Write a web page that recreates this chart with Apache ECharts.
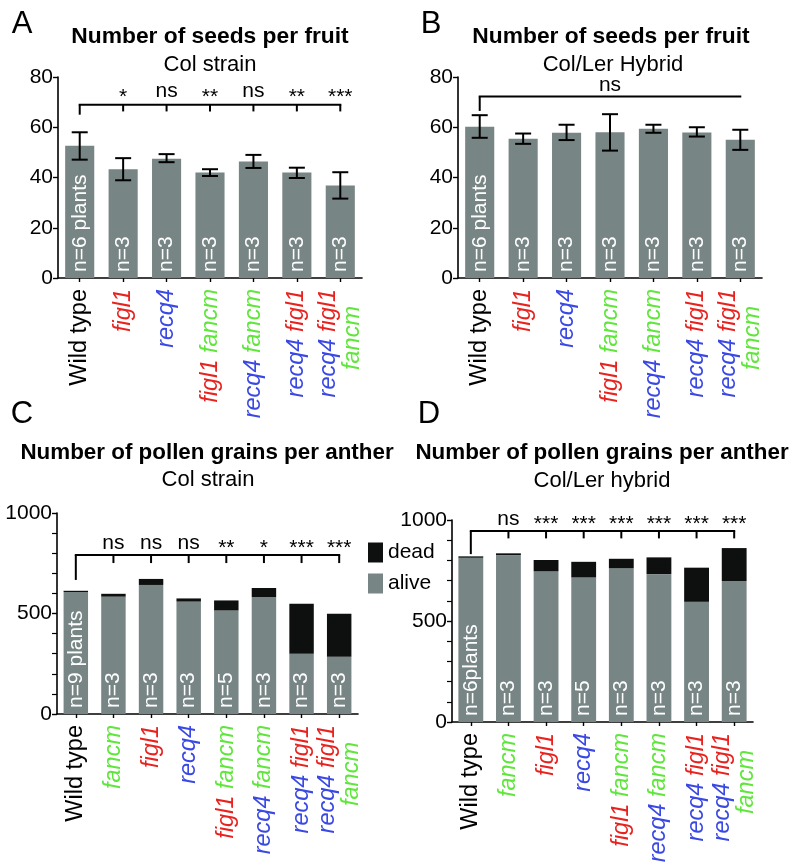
<!DOCTYPE html>
<html>
<head>
<meta charset="utf-8">
<script src="https://cdn.jsdelivr.net/npm/echarts@6/dist/echarts.min.js"></script>
<style>
html,body{margin:0;padding:0;background:#fff;}
#chart{width:796px;height:867px;}
</style>
</head>
<body>
<div id="chart"></div>
<script>
// ---------- data ----------
const catsSeeds = ['Wild type','figl1','recq4','figl1 fancm','recq4 fancm','recq4 figl1','recq4 figl1 fancm'];
const catsPollen = ['Wild type','fancm','figl1','recq4','figl1 fancm','recq4 fancm','recq4 figl1','recq4 figl1 fancm'];

const seedsColMean = [52.6, 43.3, 47.5, 42.0, 46.4, 42.0, 36.8];
const seedsColLow  = [47.1, 38.9, 46.1, 40.6, 43.8, 39.8, 31.6];
const seedsColHigh = [58.0, 47.7, 49.3, 43.3, 49.0, 43.9, 42.1];
const seedsColN    = ['n=6 plants','n=3','n=3','n=3','n=3','n=3','n=3'];
const seedsColSig  = ['', '*', 'ns', '**', 'ns', '**', '***'];

const seedsHybMean = [60.2, 55.4, 57.8, 58.0, 59.4, 57.9, 55.0];
const seedsHybLow  = [55.8, 53.4, 54.9, 50.7, 57.8, 56.3, 51.0];
const seedsHybHigh = [64.8, 57.5, 61.0, 65.2, 61.0, 60.0, 59.0];
const seedsHybN    = ['n=6 plants','n=3','n=3','n=3','n=3','n=3','n=3'];
const seedsHybSig  = ['ns'];

const pollenColAlive = [607, 584, 642, 559, 515, 582, 300, 285];
const pollenColDead  = [6, 14, 30, 16, 50, 45, 249, 214];
const pollenColN     = ['n=9 plants','n=3','n=3','n=3','n=5','n=3','n=3','n=3'];
const pollenColSig   = ['', 'ns', 'ns', 'ns', '**', '*', '***', '***'];

const pollenHybAlive = [813, 826, 747, 716, 762, 732, 595, 698];
const pollenHybDead  = [7, 9, 55, 77, 46, 83, 169, 163];
const pollenHybN     = ['n=6plants','n=3','n=3','n=5','n=3','n=3','n=3','n=3'];
const pollenHybSig   = ['', 'ns', '***', '***', '***', '***', '***', '***'];

const yTicksSeeds = [0, 20, 40, 60, 80];
const yTicksPollen = [0, 500, 1000];

// bracket levels (data units)
const bracketA = {level: 69, drop: 65, tick: 66.3};
const bracketB = {level: 72.2, drop: 66.5};
const bracketC = {level: 791, drop: 667, tick: 751};
const bracketD = {level: 945, drop: 831, tick: 909};

// ---------- styles ----------
const FONT = '"Liberation Sans", Arial, Helvetica, sans-serif';
const RED = '#e8231f', BLUE = '#3a48e4', GREEN = '#5ee63a';
const GRAY = '#778584', DEAD = '#0e1010';
const geneStyle = {figl1: 'r', recq4: 'b', fancm: 'g'};

function catFormatter(v) {
  if (v === 'Wild type') return '{k|Wild type}';
  if (v === 'recq4 figl1 fancm') return '{b|recq4} {r|figl1}\n{gp|fancm}';
  return v.split(' ').map(w => '{' + geneStyle[w] + '|' + w + '}').join(' ');
}
const LBL = 23.5;
const LH = 24;
const richCats = {
  k: {color: '#000', fontSize: LBL, fontFamily: FONT, lineHeight: LH},
  r: {color: RED, fontSize: LBL, fontFamily: FONT, fontStyle: 'italic', lineHeight: LH},
  b: {color: BLUE, fontSize: LBL, fontFamily: FONT, fontStyle: 'italic', lineHeight: LH},
  g: {color: GREEN, fontSize: LBL, fontFamily: FONT, fontStyle: 'italic', lineHeight: LH},
  gp: {color: GREEN, fontSize: LBL, fontFamily: FONT, fontStyle: 'italic', lineHeight: LH, padding: [0, 17, 0, 0]}
};

function xAxisDef(gridIndex, cats) {
  return {
    type: 'category', gridIndex, data: cats,
    axisLine: {show: true, lineStyle: {color: '#000', width: 1.6}},
    axisTick: {show: true, alignWithLabel: true, length: 4, lineStyle: {color: '#000', width: 1.4}},
    axisLabel: {interval: 0, rotate: 90, margin: 11, formatter: catFormatter, rich: richCats, fontSize: LBL, fontFamily: FONT, color: '#000'},
    splitLine: {show: false}
  };
}
function yAxisDef(gridIndex, ticks, minor) {
  const ax = {
    type: 'value', gridIndex, min: ticks[0], max: ticks[ticks.length - 1], interval: ticks[1] - ticks[0],
    axisLine: {show: true, lineStyle: {color: '#000', width: 1.6}},
    axisTick: {show: true, length: 5, lineStyle: {color: '#000', width: 1.4}},
    axisLabel: {margin: 5, fontSize: 21, fontFamily: FONT, color: '#000', formatter: v => String(v)},
    splitLine: {show: false}
  };
  if (minor) {
    ax.minorTick = {show: true, splitNumber: 5, length: 5, lineStyle: {color: '#000', width: 1.2}};
    ax.minorSplitLine = {show: false};
  }
  return ax;
}

function nLabel(arr) {
  return {
    show: true, position: 'insideBottom', distance: 6, rotate: 90, align: 'left', verticalAlign: 'middle',
    color: '#fff', fontSize: 21, fontFamily: FONT,
    formatter: p => arr[p.dataIndex]
  };
}

function errorSeries(idx, low, high) {
  return {
    type: 'custom', xAxisIndex: idx, yAxisIndex: idx, silent: true, z: 5,
    data: low.map((l, i) => [i, l, high[i]]),
    encode: {x: 0, y: [1, 2]},
    renderItem: function (params, api) {
      const i = api.value(0);
      const p1 = api.coord([i, api.value(1)]);
      const p2 = api.coord([i, api.value(2)]);
      const hw = 8;
      const st = {stroke: '#000', lineWidth: 2};
      return {type: 'group', children: [
        {type: 'line', shape: {x1: p1[0], y1: p1[1], x2: p2[0], y2: p2[1]}, style: st},
        {type: 'line', shape: {x1: p1[0] - hw, y1: p1[1], x2: p1[0] + hw, y2: p1[1]}, style: st},
        {type: 'line', shape: {x1: p2[0] - hw, y1: p2[1], x2: p2[0] + hw, y2: p2[1]}, style: st}
      ]};
    }
  };
}

function bracketSeries(idx, nCats, sig, br, starDy, textGap) {
  return {
    type: 'custom', xAxisIndex: idx, yAxisIndex: idx, silent: true, z: 6, clip: false,
    data: sig.map((s, i) => [i, s]),
    renderItem: function (params, api) {
      const i = params.dataIndex;
      const s = sig[i];
      const st = {stroke: '#000', lineWidth: 2};
      const children = [];
      const pL = api.coord([i, br.level]);
      if (i === 0) {
        const pEnd = api.coord([nCats - 1, br.level]);
        const pDrop = api.coord([0, br.drop]);
        children.push({type: 'line', shape: {x1: pL[0] - 1, y1: pL[1], x2: pEnd[0] + 1, y2: pEnd[1]}, style: st});
        children.push({type: 'line', shape: {x1: pL[0], y1: pL[1], x2: pDrop[0], y2: pDrop[1]}, style: st});
        if (s) {
          children.push({type: 'text', x: (pL[0] + pEnd[0]) / 2, y: pL[1] - textGap,
            style: {text: s, fill: '#000', font: '21px ' + FONT, textAlign: 'center', textVerticalAlign: 'bottom'}});
        }
      } else {
        const pT = api.coord([i, br.tick]);
        children.push({type: 'line', shape: {x1: pL[0], y1: pL[1], x2: pT[0], y2: pT[1]}, style: st});
        const isStar = s.indexOf('*') >= 0;
        children.push({type: 'text', x: pL[0], y: pL[1] - textGap + (isStar ? starDy : 0),
          style: {text: s, fill: '#000', font: '21px ' + FONT, textAlign: 'center', textVerticalAlign: 'bottom'}});
      }
      return {type: 'group', children};
    }
  };
}

const grids = [
  {left: 58, top: 77, width: 304, height: 201},
  {left: 458, top: 77, width: 304, height: 201},
  {left: 57, top: 513, width: 301, height: 201},
  {left: 452, top: 520, width: 301, height: 202}
].map(g => Object.assign({containLabel: false, outerBoundsMode: 'none', show: false}, g));

function txt(x, y, text, font) {
  return {type: 'text', x, y, style: {text, font, fill: '#000', textAlign: 'center', textVerticalAlign: 'middle'}};
}

const option = {
  backgroundColor: '#fff',
  animation: false,
  grid: grids,
  xAxis: [xAxisDef(0, catsSeeds), xAxisDef(1, catsSeeds), xAxisDef(2, catsPollen), xAxisDef(3, catsPollen)],
  yAxis: [yAxisDef(0, yTicksSeeds), yAxisDef(1, yTicksSeeds), yAxisDef(2, yTicksPollen, true), yAxisDef(3, yTicksPollen, true)],
  legend: {
    show: true, orient: 'vertical', left: 363, top: 537, itemWidth: 15, itemHeight: 20, itemGap: 10,
    icon: 'rect', selectedMode: false,
    textStyle: {fontSize: 21, fontFamily: FONT, color: '#000', padding: [0, 0, 0, 0]},
    data: [{name: 'dead', itemStyle: {color: DEAD}}, {name: 'alive', itemStyle: {color: GRAY}}]
  },
  graphic: [
    txt(22, 24, 'A', '31px ' + FONT),
    txt(431, 24, 'B', '31px ' + FONT),
    txt(22, 414, 'C', '31px ' + FONT),
    txt(429, 414, 'D', '31px ' + FONT),
    txt(210, 37, 'Number of seeds per fruit', 'bold 22.8px ' + FONT),
    txt(210, 65, 'Col strain', '22px ' + FONT),
    txt(611, 37, 'Number of seeds per fruit', 'bold 22.8px ' + FONT),
    txt(613, 65, 'Col/Ler Hybrid', '22px ' + FONT),
    txt(207, 453, 'Number of pollen grains per anther', 'bold 22.4px ' + FONT),
    txt(208, 480, 'Col strain', '22px ' + FONT),
    txt(602, 453, 'Number of pollen grains per anther', 'bold 22.4px ' + FONT),
    txt(602, 481, 'Col/Ler hybrid', '22px ' + FONT)
  ],
  series: [
    {type: 'bar', name: 'seedsCol', xAxisIndex: 0, yAxisIndex: 0, data: seedsColMean, barCategoryGap: '33%',
      itemStyle: {color: GRAY}, label: nLabel(seedsColN), silent: true},
    errorSeries(0, seedsColLow, seedsColHigh),
    bracketSeries(0, catsSeeds.length, seedsColSig, bracketA, 6, 3),
    {type: 'bar', name: 'seedsHyb', xAxisIndex: 1, yAxisIndex: 1, data: seedsHybMean, barCategoryGap: '33%',
      itemStyle: {color: GRAY}, label: nLabel(seedsHybN), silent: true},
    errorSeries(1, seedsHybLow, seedsHybHigh),
    bracketSeries(1, catsSeeds.length, seedsHybSig, bracketB, 0, 1),
    {type: 'bar', name: 'alive', xAxisIndex: 2, yAxisIndex: 2, stack: 'c', data: pollenColAlive, barCategoryGap: '35%',
      itemStyle: {color: GRAY}, label: nLabel(pollenColN), silent: true},
    {type: 'bar', name: 'dead', xAxisIndex: 2, yAxisIndex: 2, stack: 'c', data: pollenColDead, barCategoryGap: '35%',
      itemStyle: {color: DEAD}, silent: true},
    bracketSeries(2, catsPollen.length, pollenColSig, bracketC, 5, 1),
    {type: 'bar', name: 'alive', xAxisIndex: 3, yAxisIndex: 3, stack: 'd', data: pollenHybAlive, barCategoryGap: '34%',
      itemStyle: {color: GRAY}, label: nLabel(pollenHybN), silent: true},
    {type: 'bar', name: 'dead', xAxisIndex: 3, yAxisIndex: 3, stack: 'd', data: pollenHybDead, barCategoryGap: '34%',
      itemStyle: {color: DEAD}, silent: true},
    bracketSeries(3, catsPollen.length, pollenHybSig, bracketD, 5, 1)
  ]
};

const chart = echarts.init(document.getElementById('chart'), null, {renderer: 'canvas'});
chart.setOption(option);
</script>
</body>
</html>
